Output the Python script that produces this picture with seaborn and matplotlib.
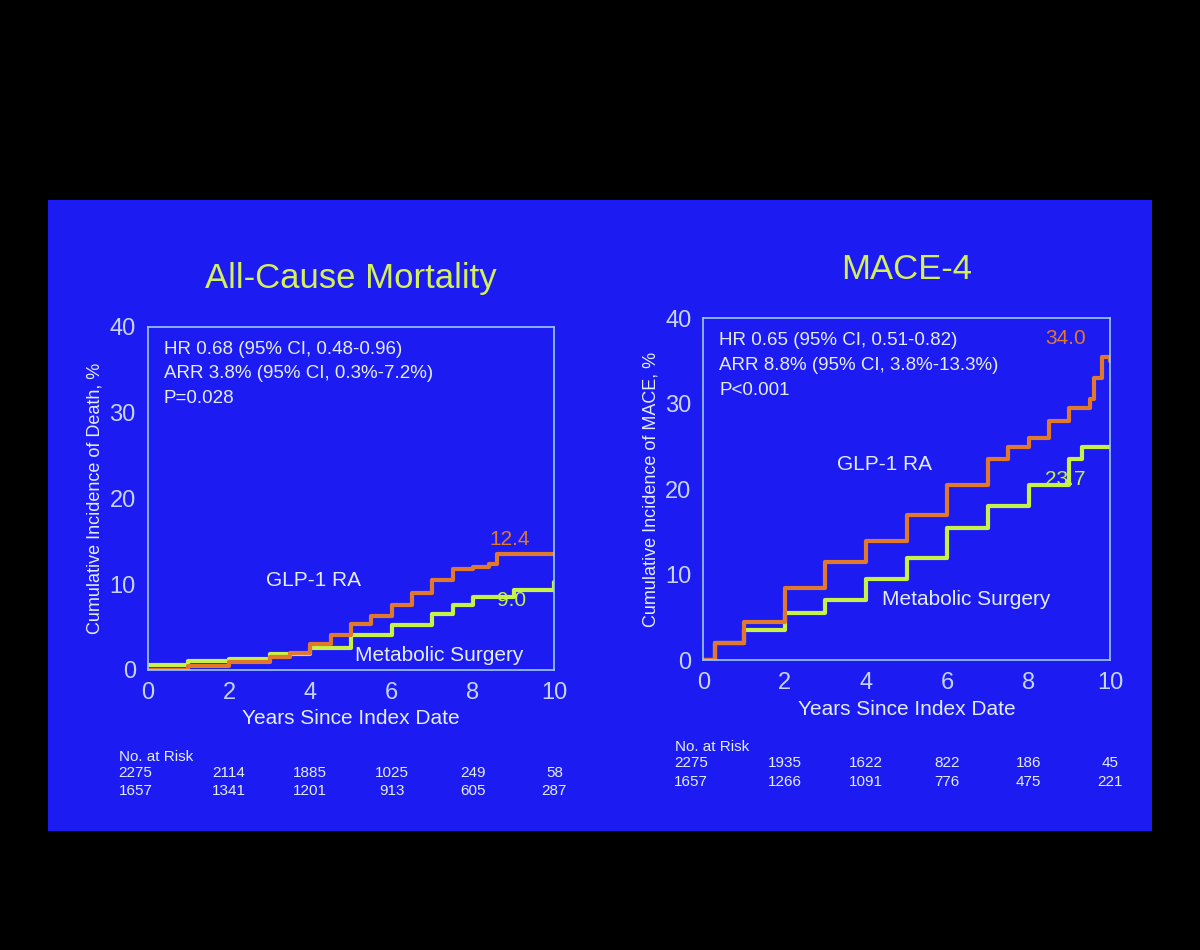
import pandas as pd
import seaborn as sns
import matplotlib.pyplot as plt

# All-cause mortality curves (years, cumulative %)
mort_glp_years = [0, 1, 2, 3, 3.5, 4, 4.5, 5, 5.5, 6, 6.5, 7, 7.5, 8, 8.4, 8.6, 10]
mort_glp_pct = [0, 0.4, 0.9, 1.5, 2.0, 3.0, 4.0, 5.3, 6.3, 7.5, 9.0, 10.5, 11.7, 12.0, 12.3, 13.5, 13.5]
mort_surg_years = [0, 1, 2, 3, 4, 5, 6, 7, 7.5, 8, 9, 10]
mort_surg_pct = [0.5, 1.0, 1.3, 1.8, 2.5, 4.0, 5.2, 6.5, 7.5, 8.5, 9.3, 10.2]

# MACE-4 curves
mace_glp_years = [0, 0.3, 1, 2, 3, 4, 5, 6, 7, 7.5, 8, 8.5, 9, 9.5, 9.6, 9.8, 10]
mace_glp_pct = [0, 2, 4.5, 8.5, 11.5, 14, 17, 20.5, 23.5, 25, 26, 28, 29.5, 30.5, 33, 35.5, 35]
mace_surg_years = [0, 0.3, 1, 2, 3, 4, 5, 6, 7, 8, 9, 9.3, 10]
mace_surg_pct = [0, 2, 3.5, 5.5, 7, 9.5, 12, 15.5, 18, 20.5, 23.5, 25, 25]

risk_mort_glp = [2275, 2114, 1885, 1025, 249, 58]
risk_mort_surg = [1657, 1341, 1201, 913, 605, 287]
risk_mace_glp = [2275, 1935, 1622, 822, 186, 45]
risk_mace_surg = [1657, 1266, 1091, 776, 475, 221]

BLUE = "#1c1cf2"
FRAME = "#9cc8ff"
TICK = "#c8d4ff"
TITLE = "#d4f05a"
ORANGE = "#e0782e"
GREEN = "#c6f24a"
TEXT = "#e4ecff"

sns.set_style("white")
plt.rcParams["font.family"] = ["Liberation Sans", "DejaVu Sans"]

fig = plt.figure(figsize=(12, 9.5), dpi=100, facecolor="black")
# the slide itself, as a background axes
bg = fig.add_axes([0.04, 0.125, 0.92, 0.665], zorder=-10)
bg.set_facecolor(BLUE)
bg.set_axis_off()
bg.add_patch(plt.Rectangle((0, 0), 1, 1, transform=bg.transAxes, color=BLUE))


def panel(rect, glp, surg, ylabel, title, stats, risk_glp, risk_surg):
    ax = fig.add_axes(rect)
    ax.set_facecolor(BLUE)
    df_g = pd.DataFrame({"x": glp[0], "y": glp[1]})
    df_s = pd.DataFrame({"x": surg[0], "y": surg[1]})
    sns.lineplot(data=df_s, x="x", y="y", ax=ax, color=GREEN, lw=3, drawstyle="steps-post")
    sns.lineplot(data=df_g, x="x", y="y", ax=ax, color=ORANGE, lw=3, drawstyle="steps-post")
    ax.set_xlim(0, 10)
    ax.set_ylim(0, 40)
    ax.set_xticks(range(0, 11, 2))
    ax.set_yticks(range(0, 41, 10))
    for s in ax.spines.values():
        s.set_color(FRAME)
        s.set_linewidth(1.2)
    ax.tick_params(colors=TICK, labelsize=17, direction="out", length=5, color=FRAME)
    ax.set_xlabel("Years Since Index Date", color=TEXT, fontsize=15)
    ax.set_ylabel(ylabel, color=TEXT, fontsize=13)
    ax.set_title(title, color=TITLE, fontsize=25, pad=28)
    ax.text(0.04, 0.96, stats, transform=ax.transAxes, va="top", ha="left",
            color=TEXT, fontsize=13.5, linespacing=1.6)
    ax.text(-0.07, -0.255, "No. at Risk", transform=ax.transAxes, color=TEXT,
            fontsize=11, ha="left", va="center")
    xs = [-0.03, 0.2, 0.4, 0.6, 0.8, 1.0]
    for xi, a, b in zip(xs, risk_glp, risk_surg):
        ax.text(xi, -0.3, str(a), transform=ax.transAxes, color=TEXT, fontsize=11,
                ha="center", va="center")
        ax.text(xi, -0.355, str(b), transform=ax.transAxes, color=TEXT, fontsize=11,
                ha="center", va="center")
    return ax


ax1 = panel([0.123, 0.295, 0.339, 0.361], (mort_glp_years, mort_glp_pct),
            (mort_surg_years, mort_surg_pct), "Cumulative Incidence of Death, %",
            "All-Cause Mortality",
            "HR 0.68 (95% CI, 0.48-0.96)\nARR 3.8% (95% CI, 0.3%-7.2%)\nP=0.028",
            risk_mort_glp, risk_mort_surg)
ax1.text(8.4, 14.6, "12.4", color=ORANGE, fontsize=15)
ax1.text(8.6, 7.4, "9.0", color=GREEN, fontsize=15)
ax1.text(2.9, 9.8, "GLP-1 RA", color=TEXT, fontsize=15)
ax1.text(5.1, 1.0, "Metabolic Surgery", color=TEXT, fontsize=15)

ax2 = panel([0.586, 0.305, 0.339, 0.36], (mace_glp_years, mace_glp_pct),
            (mace_surg_years, mace_surg_pct), "Cumulative Incidence of MACE, %",
            "MACE-4",
            "HR 0.65 (95% CI, 0.51-0.82)\nARR 8.8% (95% CI, 3.8%-13.3%)\nP<0.001",
            risk_mace_glp, risk_mace_surg)
ax2.text(8.4, 37.0, "34.0", color=ORANGE, fontsize=15)
ax2.text(8.4, 20.5, "23.7", color=GREEN, fontsize=15)
ax2.text(3.3, 22.2, "GLP-1 RA", color=TEXT, fontsize=15)
ax2.text(4.4, 6.5, "Metabolic Surgery", color=TEXT, fontsize=15)

fig.savefig("out.png", dpi=100, facecolor="black")
